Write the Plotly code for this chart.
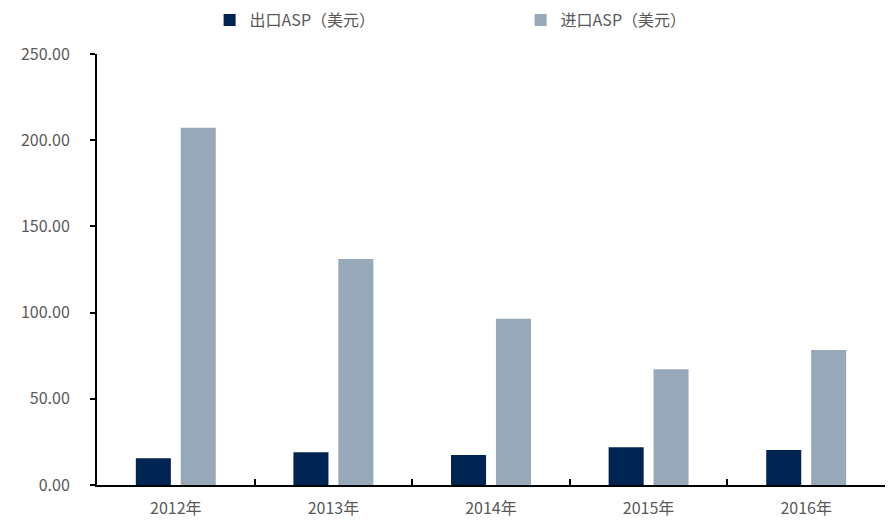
import plotly.graph_objects as go

years = ["2012年", "2013年", "2014年", "2015年", "2016年"]
export_asp = [15.5, 19.0, 17.4, 21.9, 20.3]
import_asp = [207.2, 131.1, 96.5, 67.1, 78.3]
y_ticks = [0, 50, 100, 150, 200, 250]
y_tick_text = ["0.00", "50.00", "100.00", "150.00", "200.00", "250.00"]

font_family = "Noto Sans CJK SC, Noto Sans, sans-serif"
label_color = "#595959"

fig = go.Figure()
fig.add_trace(go.Bar(name="出口ASP（美元）", x=years, y=export_asp,
                     marker=dict(color="#002451", line=dict(width=0))))
fig.add_trace(go.Bar(name="进口ASP（美元）", x=years, y=import_asp,
                     marker=dict(color="#97A8B9", line=dict(width=0))))

fig.update_layout(
    width=892, height=521,
    margin=dict(l=97, r=7, t=54, b=36, autoexpand=False),
    paper_bgcolor="white", plot_bgcolor="white",
    barmode="group", bargap=0.43, bargroupgap=0.22,
    font=dict(family=font_family, size=16, color=label_color),
    legend=dict(orientation="h", xref="container", yref="container",
                x=0.235, xanchor="left", y=0.994, yanchor="top",
                entrywidth=266, entrywidthmode="pixels", itemwidth=30,
                font=dict(size=16, color=label_color)),
    showlegend=True,
)
fig.update_xaxes(showline=True, linecolor="black", linewidth=2,
                 ticks="inside", ticklen=6, tickcolor="black", tickwidth=2,
                 tickson="boundaries", showgrid=False, ticklabelstandoff=8)
fig.update_yaxes(range=[0, 250], tickvals=y_ticks, ticktext=y_tick_text,
                 showline=True, linecolor="black", linewidth=2,
                 ticks="outside", ticklen=5, tickcolor="black", tickwidth=2,
                 showgrid=False, zeroline=False, ticklabelstandoff=17)

fig.write_html("out.html")
